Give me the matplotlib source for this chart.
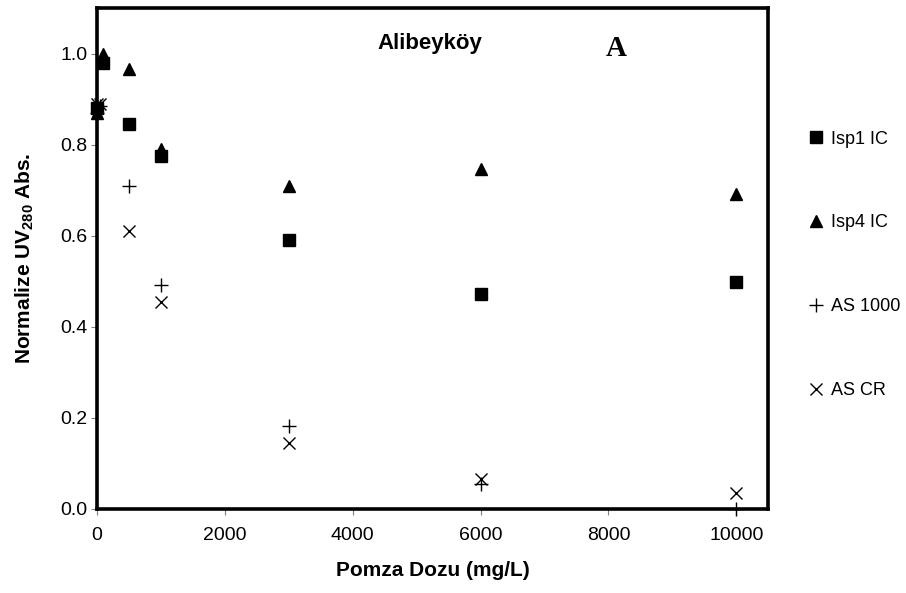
import numpy as np
import matplotlib.pyplot as plt

plt.rcParams['font.family'] = ['Liberation Sans', 'DejaVu Sans']
plt.rcParams['mathtext.fontset'] = 'custom'
plt.rcParams['mathtext.bf'] = 'Liberation Sans:bold'
plt.rcParams['mathtext.rm'] = 'Liberation Sans:bold'

# dozlar (mg/L)
doz = [0, 100, 500, 1000, 3000, 6000, 10000]
doz_as = [0, 50, 500, 1000, 3000, 6000, 10000]

isp1_ic = [0.88, 0.98, 0.845, 0.775, 0.59, 0.473, 0.499]
isp4_ic = [0.87, 1.0, 0.965, 0.79, 0.709, 0.746, 0.691]
as_1000 = [0.87, 0.885, 0.709, 0.492, 0.182, 0.055, 0.0]
as_cr = [0.89, 0.89, 0.61, 0.455, 0.144, 0.065, 0.035]

x_ticks = [0, 2000, 4000, 6000, 8000, 10000]
y_ticks = [0.0, 0.2, 0.4, 0.6, 0.8, 1.0]

fig = plt.figure(figsize=(9.06, 5.93), dpi=100)
ax = fig.add_axes([0.107, 0.1417, 0.741, 0.8448])

ax.plot(doz, isp1_ic, 's', color='black', markersize=8, label='Isp1 IC', clip_on=False)
ax.plot(doz, isp4_ic, '^', color='black', markersize=8.5, label='Isp4 IC', clip_on=False)
ax.plot(doz_as, as_1000, '+', color='black', markersize=10, markeredgewidth=1.0,
        label='AS 1000', clip_on=False)
ax.plot(doz_as, as_cr, 'x', color='black', markersize=9, markeredgewidth=1.0,
        label='AS CR', clip_on=False)

ax.set_xlim(0, 10500)
ax.set_ylim(0, 1.1)
ax.set_xticks(x_ticks)
ax.set_yticks(y_ticks)
ax.set_xticklabels([str(t) for t in x_ticks])
ax.set_yticklabels([f'{t:.1f}' for t in y_ticks])
ax.tick_params(direction='out', length=4, width=0.8, color='#808080',
               labelsize=14, pad=3)
ax.tick_params(axis='x', pad=9)

for s in ax.spines.values():
    s.set_linewidth(2.6)
    s.set_zorder(3)

ax.set_xlabel('Pomza Dozu (mg/L)', fontsize=15, fontweight='bold', labelpad=12)
ax.set_ylabel(r'Normalize UV$_{\mathbf{280}}$ Abs.', fontsize=15, fontweight='bold',
              labelpad=17)

ax.text(0.496, 0.93, 'Alibeyköy', transform=ax.transAxes, fontsize=16,
        fontweight='bold', ha='center', va='center')
ax.text(0.774, 0.92, 'A', transform=ax.transAxes, fontsize=21, fontweight='bold',
        family='Liberation Serif', ha='center', va='center')

fig.legend(loc='upper left', bbox_to_anchor=(0.883, 0.792), frameon=False,
           fontsize=13, labelspacing=3.7, handletextpad=0.3, handlelength=1.0,
           borderaxespad=0)

fig.savefig('out.png', dpi=100)
